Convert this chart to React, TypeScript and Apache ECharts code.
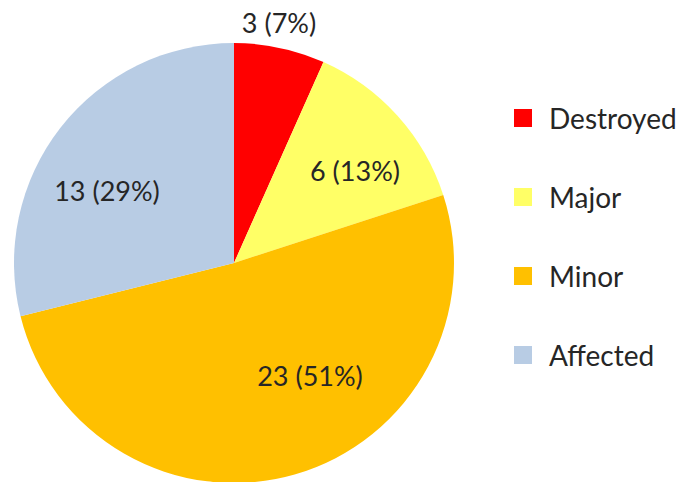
import React, { useEffect, useRef } from "react";
import * as echarts from "echarts";

const categories = ["Destroyed", "Major", "Minor", "Affected"];
const values = [3, 6, 23, 13];
const percents = [7, 13, 51, 29];
const colors = ["#FF0000", "#FFFF66", "#FFC000", "#B8CCE4"];
const labelAnchors: [number, number][] = [
  [279, 22],
  [355, 170],
  [310, 375],
  [107, 190],
];

export default function App() {
  const ref = useRef<HTMLDivElement>(null);
  useEffect(() => {
    if (!ref.current) return;
    const chart = echarts.init(ref.current, null, { renderer: "svg" });
    const font = "Lato, 'Liberation Sans', sans-serif";
    chart.setOption({
      animation: false,
      backgroundColor: "#ffffff",
      legend: {
        orient: "vertical",
        left: 509,
        top: 99,
        itemWidth: 18,
        itemHeight: 18,
        itemGap: 51,
        icon: "rect",
        data: categories,
        textStyle: {
          fontFamily: font,
          fontSize: 28,
          color: "#262626",
          padding: [0, 0, 0, 12],
        },
      },
      series: [
        {
          type: "pie",
          center: [234, 263],
          radius: 220,
          startAngle: 90,
          clockwise: true,
          silent: true,
          data: categories.map((c, i) => ({
            name: c,
            value: values[i],
            itemStyle: { color: colors[i] },
          })),
          label: {
            show: true,
            position: "inside",
            fontFamily: font,
            fontSize: 27,
            color: "#262626",
            formatter: (p: any) => `${values[p.dataIndex]} (${percents[p.dataIndex]}%)`,
          },
          labelLine: { show: false },
          labelLayout: (p: any) => ({
            x: labelAnchors[p.dataIndex][0],
            y: labelAnchors[p.dataIndex][1],
            align: "center",
            verticalAlign: "middle",
          }),
        },
      ],
    });
    return () => chart.dispose();
  }, []);
  return (
    <div
      ref={ref}
      style={{ position: "fixed", left: 0, top: 0, width: 698, height: 482 }}
    />
  );
}
